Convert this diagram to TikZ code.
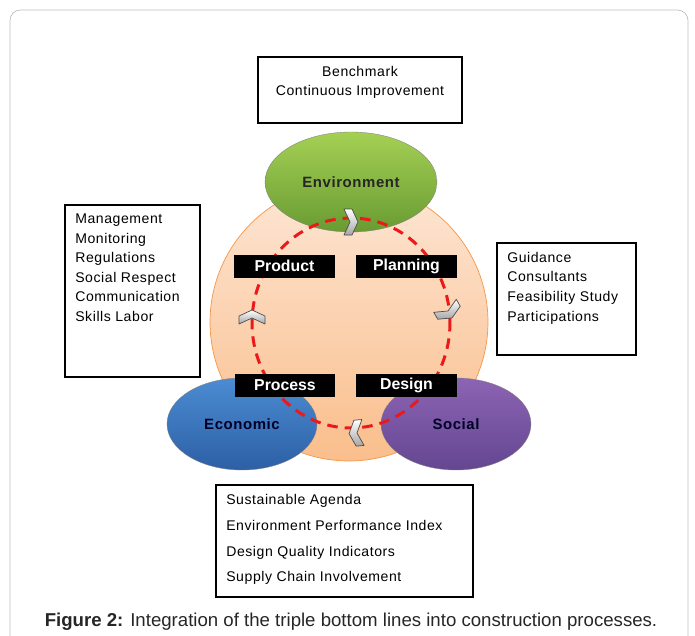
\documentclass[tikz,border=0pt]{standalone}
\usepackage{fontspec}
\setmainfont{Liberation Sans}
\newfontfamily\boxfont[LetterSpace=4]{Liberation Sans}
\usetikzlibrary{shapes.geometric,positioning}

\definecolor{peachtop}{RGB}{253,230,212}
\definecolor{peachbot}{RGB}{250,190,140}
\definecolor{peachline}{RGB}{247,150,70}
\definecolor{envtop}{RGB}{165,208,85}
\definecolor{envbot}{RGB}{105,155,50}
\definecolor{ecotop}{RGB}{75,140,210}
\definecolor{ecobot}{RGB}{45,95,165}
\definecolor{soctop}{RGB}{140,100,180}
\definecolor{socbot}{RGB}{100,70,145}
\definecolor{loopred}{RGB}{235,25,25}
\definecolor{framegray}{RGB}{190,190,190}

\tikzstyle{textbox}=[rectangle,draw=black,line width=1.2pt,inner sep=0]
\tikzstyle{listtext}=[align=left,inner sep=0,font=\boxfont\fontsize{8}{11.1}\selectfont]
\tikzstyle{pillar}=[ellipse,inner sep=0,draw=black!50,very thin,font=\boxfont\bfseries\fontsize{8.5}{10}\selectfont]
\tikzstyle{stage}=[rectangle,fill=black,text=white,inner sep=0,minimum width=2.02cm,
    minimum height=0.46cm,font=\bfseries\fontsize{9}{10}\selectfont]
\tikzstyle{chevron}=[draw=black!70,thin,top color=white,bottom color=black!35,line join=round]

\newcommand{\flowchev}[3]{%
  \draw[chevron,shift={(#1,#2)},rotate=#3]
    (-6,-13) -- (2,-13) -- (8,0) -- (2,13) -- (-6,13) -- (0,0) -- cycle;}

\begin{document}
\begin{tikzpicture}[x=0.02cm,y=-0.02cm]
        \useasboundingbox (0,0) rectangle (695,635);
        \clip (0,0) rectangle (695,635);
        \draw[framegray,rounded corners=6pt] (10,10) rectangle (688,660);

        % core of the cycle
        \node[circle,draw=peachline,top color=peachtop,bottom color=peachbot,
            minimum size=5.56cm] (hub) at (349,322) {};
        \node[pillar,top color=envtop,bottom color=envbot,text=black!85,
            minimum width=3.44cm,minimum height=2.0cm] (env) at (351,182) {Environment};
        \node[pillar,top color=ecotop,bottom color=ecobot,text=black!85!blue,
            minimum width=3.0cm,minimum height=1.84cm] (eco) at (242,424) {Economic};
        \node[pillar,top color=soctop,bottom color=socbot,text=black!85!blue,
            minimum width=3.0cm,minimum height=1.84cm] (soc) at (456,424) {Social};

        \draw[loopred,line width=1.7pt,dash pattern=on 6pt off 4pt]
            (351,323) ellipse [x radius=1.98cm,y radius=2.1cm];

        \flowchev{350}{222}{0}
        \flowchev{448}{311}{-60}
        \flowchev{357}{433}{185}
        \flowchev{252}{318}{90}

        \node[stage] (product)  at (284.5,266) {Product};
        \node[stage] (planning) at (406.5,266) {Planning};
        \node[stage] (process)  at (285,385)   {Process};
        \node[stage] (design)   at (406.5,385) {Design};

        % surrounding boxes
        \node[textbox,minimum width=4.08cm,minimum height=1.32cm] (bench) at (360,90) {};
        \node[listtext,align=center,below=0.2cm of bench.north] (benchtxt)
            {Benchmark\\Continuous Improvement};

        \node[textbox,minimum width=2.7cm,minimum height=3.44cm] (mgmt) at (132.5,291) {};
        \node[listtext,below right=0.2cm and 0.22cm of mgmt.north west] (mgmttxt)
            {Management\\Monitoring\\Regulations\\Social Respect\\Communication\\Skills Labor};

        \node[textbox,minimum width=2.78cm,minimum height=2.24cm] (guide) at (566.5,299) {};
        \node[listtext,below right=0.2cm and 0.22cm of guide.north west] (guidetxt)
            {Guidance\\Consultants\\Feasibility Study\\Participations};

        \node[textbox,minimum width=5.14cm,minimum height=2.24cm] (agenda) at (344.5,541) {};
        \node[listtext,font=\boxfont\fontsize{8}{14.7}\selectfont,
            below right=0.2cm and 0.22cm of agenda.north west] (agendatxt)
            {Sustainable Agenda\\Environment Performance Index\\Design Quality Indicators\\Supply Chain Involvement};

        \node[font=\fontsize{10.6}{12}\selectfont,text=black!85] (caption) at (351,622)
            {\textbf{Figure 2:} Integration of the triple bottom lines into construction processes.};
    \end{tikzpicture}
\end{document}
